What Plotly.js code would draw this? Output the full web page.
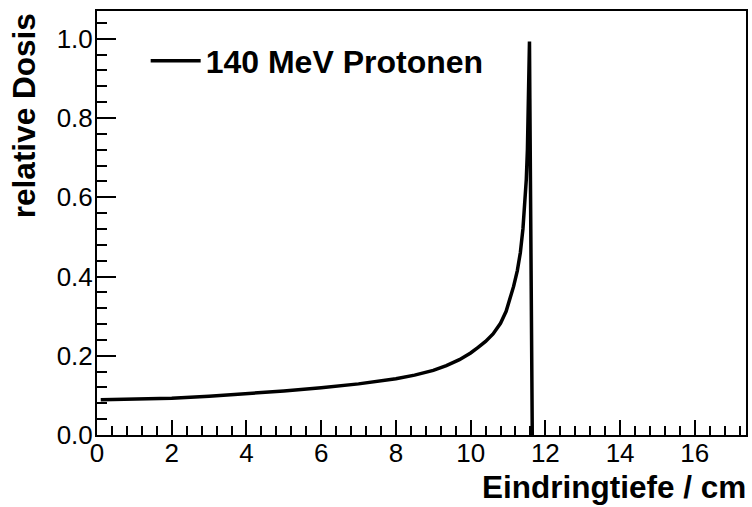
<!DOCTYPE html>
<html>
<head>
<meta charset="utf-8">
<script src="https://cdn.plot.ly/plotly-3.0.1.min.js"></script>
<style>html,body{margin:0;padding:0;background:#fff;}#chart{width:752px;height:507px;}</style>
</head>
<body>
<div id="chart"></div>
<script>
// Depth in cm and relative dose
const depth = [0.1, 1, 2, 3, 4, 5, 6, 7, 8, 8.5, 9, 9.35, 9.7, 10, 10.2, 10.4, 10.6, 10.8, 10.95, 11.05, 11.15, 11.25, 11.33, 11.40, 11.45, 11.49, 11.52, 11.54, 11.555, 11.565, 11.575, 11.585, 11.595, 11.61, 11.63, 11.65];
const dose  = [0.089, 0.090, 0.093, 0.098, 0.104, 0.111, 0.119, 0.129, 0.142, 0.151, 0.163, 0.175, 0.190, 0.207, 0.221, 0.236, 0.255, 0.282, 0.312, 0.340, 0.375, 0.415, 0.460, 0.520, 0.580, 0.645, 0.720, 0.800, 0.880, 0.950, 0.993, 0.85, 0.70, 0.44, 0.20, 0.0];
const seriesName = "140 MeV Protonen";
const xTitle = "Eindringtiefe / cm";
const yTitle = "relative Dosis";

const FONT = "Liberation Sans, Arial, Helvetica, sans-serif";

const trace = {
  x: depth, y: dose, type: "scatter", mode: "lines",
  name: seriesName,
  line: {color: "#000", width: 3.5, shape: "linear"}
};

const axisCommon = {
  showgrid: false, zeroline: false,
  showline: true, mirror: true, linecolor: "#000", linewidth: 2,
  ticks: "inside", tickcolor: "#000", tickwidth: 2,
  tickfont: {family: FONT, size: 26, color: "#000"}
};

const layout = {
  width: 752, height: 507,
  margin: {l: 97, r: 6, t: 11, b: 72, pad: 0},
  paper_bgcolor: "#fff", plot_bgcolor: "#fff",
  showlegend: true,
  legend: {
    x: 0.075, y: 0.882, xanchor: "left", yanchor: "middle",
    bgcolor: "rgba(0,0,0,0)", borderwidth: 0,
    font: {family: FONT, size: 32, color: "#000", weight: "bold"},
    itemwidth: 50
  },
  xaxis: Object.assign({}, axisCommon, {
    range: [0, 17.37], tick0: 0, dtick: 2, ticklen: 15, ticklabelstandoff: -6,
    minor: {ticks: "inside", dtick: 0.4, tick0: 0, ticklen: 9, tickcolor: "#000", tickwidth: 2, showgrid: false}
  }),
  yaxis: Object.assign({}, axisCommon, {
    range: [0, 1.07], tick0: 0, dtick: 0.2, ticklen: 19, tickformat: ".1f", ticklabelstandoff: -3,
    minor: {ticks: "inside", dtick: 0.04, tick0: 0, ticklen: 10, tickcolor: "#000", tickwidth: 2, showgrid: false}
  }),
  annotations: [
    {text: xTitle, xref: "paper", yref: "paper", x: 1.0, y: -0.122, xshift: 2,
     xanchor: "right", yanchor: "middle", showarrow: false,
     font: {family: FONT, size: 31.5, color: "#000", weight: "bold"}},
    {text: yTitle, xref: "paper", yref: "paper", x: -0.113, y: 1.0,
     xanchor: "center", yanchor: "top", textangle: -90, showarrow: false,
     font: {family: FONT, size: 31.5, color: "#000", weight: "bold"}}
  ]
};

Plotly.newPlot("chart", [trace], layout, {displayModeBar: false, staticPlot: true});
</script>
</body>
</html>
